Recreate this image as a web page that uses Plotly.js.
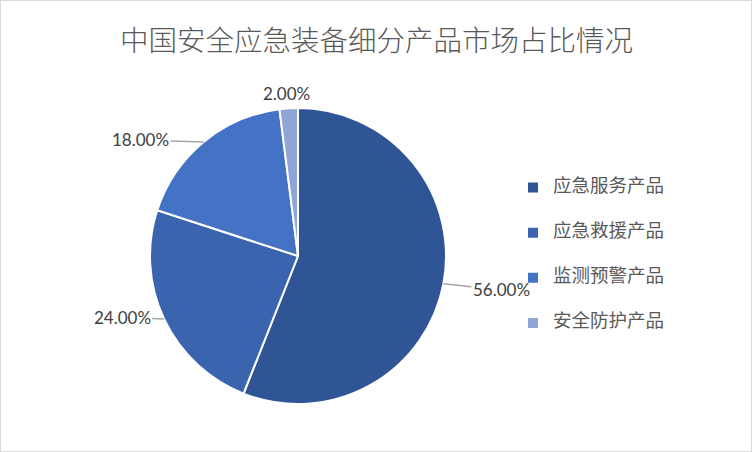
<!DOCTYPE html>
<html>
<head>
<meta charset="utf-8">
<script src="https://cdn.plot.ly/plotly-3.0.1.min.js"></script>
<style>
  body { margin: 0; background: #fff; }
  #chart { width: 750px; height: 450px; border: 1px solid #d9d9d9; }
</style>
</head>
<body>
<div id="chart"></div>
<script>
var categories = ['应急服务产品', '应急救援产品', '监测预警产品', '安全防护产品'];
var shares = [56, 24, 18, 2];
var colors = ['#2f5597', '#3a64ae', '#4472c4', '#8fa5d5'];

// label offsets from the slice edge, in pixels
var labelOffsets = [[58, 6], [-42, -2], [-63, -2], [-2, -15]];

var W = 750, H = 450;
var cx = 297, cy = 255, r = 148;

var total = shares.reduce(function (a, b) { return a + b; }, 0);
var annotations = [{
    text: '中国安全应急装备细分产品市场占比情况',
    xref: 'paper', yref: 'paper', x: 0.5, y: 1 - 38 / H,
    xanchor: 'center', yanchor: 'middle',
    showarrow: false,
    font: { family: 'Noto Sans CJK SC', size: 28.5, weight: 300, color: '#595959' }
}];
var acc = 0;
shares.forEach(function (v, i) {
    var mid = (acc + v / 2) / total * 2 * Math.PI;
    acc += v;
    var ex = cx + r * Math.sin(mid);
    var ey = cy - r * Math.cos(mid);
    var small = v / total < 0.05;
    annotations.push({
        text: (v / total * 100).toFixed(2) + '%',
        xref: 'paper', yref: 'paper',
        x: ex / W, y: 1 - ey / H,
        xanchor: 'center', yanchor: 'middle',
        showarrow: !small,
        arrowhead: 0, arrowwidth: 1.5, arrowcolor: '#a6a6a6',
        ax: labelOffsets[i][0], ay: labelOffsets[i][1],
        xshift: small ? labelOffsets[i][0] : 0,
        yshift: small ? -labelOffsets[i][1] : 0,
        font: { family: 'Lato, Noto Sans', size: 17, color: '#404040' }
    });
});

var trace = {
    type: 'pie',
    labels: categories.map(function (c) {
        return '<br><span style="font-size:18.5px">' + c + '</span><br>';
    }),
    values: shares,
    sort: false,
    direction: 'clockwise',
    rotation: 0,
    textinfo: 'none',
    hoverinfo: 'label+percent',
    marker: { colors: colors, line: { color: '#ffffff', width: 2 } },
    domain: { x: [(cx - r) / W, (cx + r) / W], y: [1 - (cy + r) / H, 1 - (cy - r) / H] }
};

var layout = {
    width: W,
    height: H,
    margin: { l: 0, r: 0, t: 0, b: 0 },
    paper_bgcolor: '#ffffff',
    showlegend: true,
    legend: {
        x: 512 / W, xanchor: 'left',
        y: 1 - 254.5 / H, yanchor: 'middle',
        font: { family: 'Noto Sans CJK SC', size: 10.8, color: '#595959' }
    },
    annotations: annotations
};

Plotly.newPlot('chart', [trace], layout, { displayModeBar: false });
</script>
</body>
</html>
